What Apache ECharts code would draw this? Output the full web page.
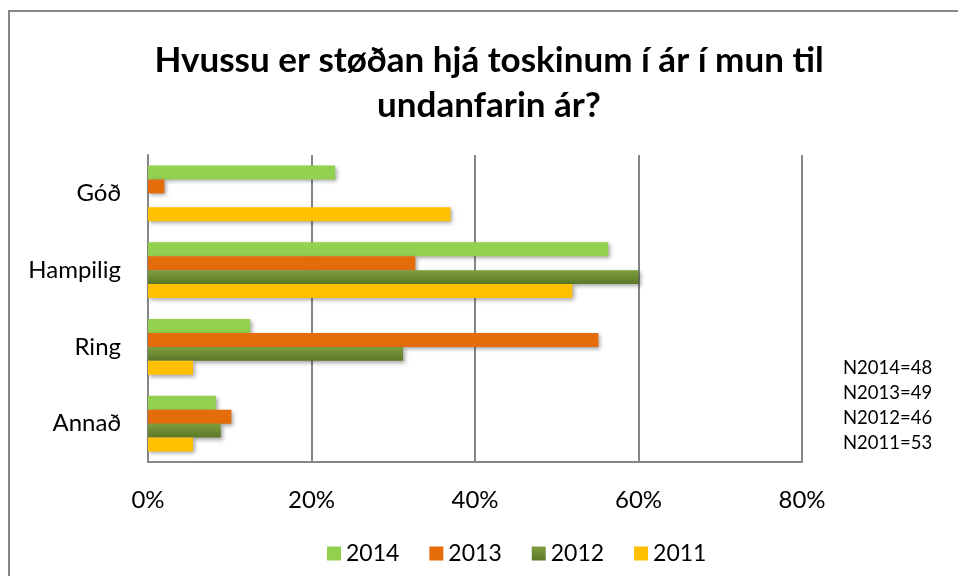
<!DOCTYPE html>
<html>
<head>
<meta charset="utf-8">
<script src="https://cdn.jsdelivr.net/npm/echarts@6/dist/echarts.min.js"></script>
<style>html,body{margin:0;padding:0;background:#fff}#c{width:958px;height:576px}</style>
</head>
<body>
<div id="c"></div>
<script>
const titleText = 'Hvussu er støðan hjá toskinum í ár í mun til\nundanfarin ár?';
const categories = ['Góð', 'Hampilig', 'Ring', 'Annað'];
const seriesNames = ['2014', '2013', '2012', '2011'];
const v2014 = [22.9, 56.3, 12.5, 8.3];
const v2013 = [2.0, 32.7, 55.1, 10.2];
const v2012 = [0, 60.0, 31.2, 8.9];
const v2011 = [37.0, 51.9, 5.5, 5.5];
const xTicks = [0, 20, 40, 60, 80];
const nLines = ['N2014=48', 'N2013=49', 'N2012=46', 'N2011=53'];

const FONT = 'Lato, "Liberation Sans", sans-serif';
const colors = [
  '#92D050',
  '#E46C0A',
  {type: 'linear', x: 0, y: 0, x2: 0, y2: 1, colorStops: [{offset: 0, color: '#7E9E3E'}, {offset: 1, color: '#5A7828'}]},
  '#FFC000'
];
const values = [v2014, v2013, v2012, v2011];

const chart = echarts.init(document.getElementById('c'), null, {renderer: 'canvas'});
chart.setOption({
  backgroundColor: '#fff',
  animation: false,
  title: {
    text: titleText,
    left: 484,
    textAlign: 'center',
    top: 33,
    textStyle: {fontFamily: FONT, fontWeight: 'bold', fontSize: 35, color: '#000', lineHeight: 45}
  },
  legend: {
    data: seriesNames.map((n, i) => ({name: n, itemStyle: {color: colors[i]}})),
    left: 322,
    top: 537,
    itemWidth: 14,
    itemHeight: 14,
    itemGap: 30,
    icon: 'rect',
    textStyle: {fontFamily: FONT, fontSize: 23, color: '#000'}
  },
  grid: {left: 148, right: 156, top: 155, bottom: 114, containLabel: false},
  xAxis: {
    type: 'value',
    min: xTicks[0],
    max: xTicks[xTicks.length - 1],
    interval: 20,
    axisLine: {show: true, lineStyle: {color: '#868686', width: 2}},
    axisTick: {show: false},
    axisLabel: {formatter: '{value}%', fontFamily: FONT, fontSize: 24, color: '#000', margin: 26},
    splitLine: {show: true, lineStyle: {color: '#868686', width: 2}}
  },
  yAxis: {
    type: 'category',
    data: categories,
    inverse: true,
    axisLine: {show: true, lineStyle: {color: '#868686', width: 2}},
    axisTick: {show: false},
    axisLabel: {fontFamily: FONT, fontSize: 24, color: '#000', margin: 27}
  },
  series: seriesNames.map((n, i) => ({
    name: n,
    type: 'bar',
    data: values[i],
    barGap: '0%',
    barCategoryGap: '27.5%',
    itemStyle: {color: colors[i], shadowColor: 'rgba(0,0,0,0.35)', shadowBlur: 4, shadowOffsetX: 2, shadowOffsetY: 2}
  })),
  graphic: [
    {type: 'rect', shape: {x: 9, y: 11, width: 1200, height: 1200}, style: {fill: 'none', stroke: '#868686', lineWidth: 2}, silent: true, z: 100}
  ].concat(nLines.map((t, i) => ({
    type: 'text', left: 843, top: 359 + i * 24.7,
    style: {text: t, font: '18.5px ' + FONT, fill: '#000'}
  })))
});
</script>
</body>
</html>
